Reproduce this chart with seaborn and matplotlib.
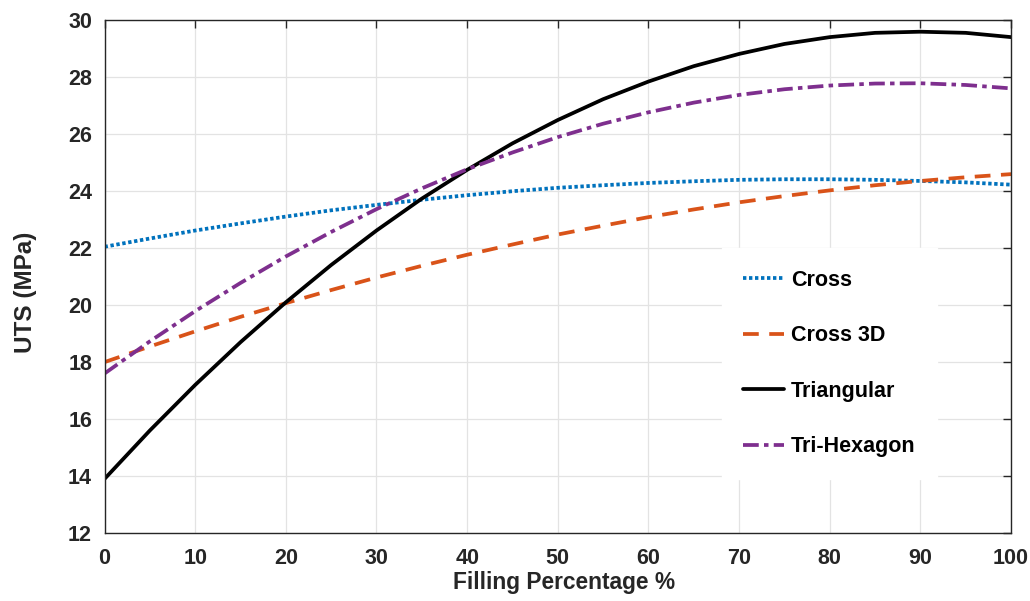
import numpy as np
import pandas as pd
import matplotlib
matplotlib.use("Agg")
import matplotlib.pyplot as plt
import seaborn as sns

# Filling percentage (%) and ultimate tensile strength (MPa) per infill pattern
filling = [0, 5, 10, 15, 20, 25, 30, 35, 40, 45, 50,
           55, 60, 65, 70, 75, 80, 85, 90, 95, 100]
cross = [22.05, 22.34, 22.62, 22.87, 23.11, 23.33, 23.52, 23.70, 23.86, 24.00, 24.12,
         24.21, 24.29, 24.35, 24.40, 24.42, 24.42, 24.40, 24.36, 24.31, 24.23]
cross_3d = [18.00, 18.55, 19.08, 19.59, 20.07, 20.53, 20.97, 21.38, 21.77, 22.13, 22.48,
            22.79, 23.09, 23.36, 23.61, 23.83, 24.03, 24.21, 24.36, 24.49, 24.60]
triangular = [13.90, 15.60, 17.20, 18.70, 20.10, 21.41, 22.62, 23.74, 24.75, 25.68, 26.50,
              27.23, 27.85, 28.39, 28.82, 29.17, 29.41, 29.56, 29.60, 29.56, 29.41]
tri_hexagon = [17.60, 18.73, 19.79, 20.78, 21.71, 22.57, 23.37, 24.10, 24.77, 25.36, 25.90,
               26.37, 26.77, 27.11, 27.38, 27.58, 27.71, 27.78, 27.79, 27.73, 27.61]

series_names = ["Cross", "Cross 3D", "Triangular", "Tri-Hexagon"]
series_values = [cross, cross_3d, triangular, tri_hexagon]
x_ticks = [0, 10, 20, 30, 40, 50, 60, 70, 80, 90, 100]
y_ticks = [12, 14, 16, 18, 20, 22, 24, 26, 28, 30]

sns.set_theme(style="white")
plt.rcParams["font.family"] = ["Liberation Sans", "DejaVu Sans"]
plt.rcParams["font.weight"] = "bold"

colors = {"Cross": "#0072BD", "Cross 3D": "#D95319",
          "Triangular": "#000000", "Tri-Hexagon": "#7E2F8E"}
dashes = {"Cross": (0.9, 0.7), "Cross 3D": (4.2, 2.8),
          "Triangular": "", "Tri-Hexagon": (4.2, 1.4, 1.2, 1.4)}

df = pd.DataFrame({
    "Filling": np.tile(filling, len(series_names)),
    "UTS": np.concatenate(series_values),
    "Pattern": np.repeat(series_names, len(filling)),
})

fig = plt.figure(figsize=(10.30, 6.01), dpi=100)
ax = fig.add_axes([0.1015, 0.1131, 0.8801, 0.8531])

sns.lineplot(data=df, x="Filling", y="UTS", hue="Pattern", style="Pattern",
             hue_order=series_names, style_order=series_names,
             palette=colors, dashes=dashes, linewidth=2.7, ax=ax, legend=True)

ax.set_xlim(0, 100)
ax.set_ylim(12, 30)
ax.set_xticks(x_ticks)
ax.set_yticks(y_ticks)
ax.tick_params(axis="both", direction="in", length=6, width=1, top=True, right=True,
               labelsize=15.5, colors="#262626")
ax.tick_params(axis="x", pad=11)
ax.tick_params(axis="y", pad=9)
for lab in ax.get_xticklabels() + ax.get_yticklabels():
    lab.set_fontweight("bold")
ax.grid(True, color="#e3e3e3", linewidth=0.9)
for sp in ax.spines.values():
    sp.set_color("#262626")
    sp.set_linewidth(1.0)

ax.set_xlabel("Filling Percentage %", fontsize=16.4, fontweight="bold",
              color="#262626")
ax.xaxis.set_label_coords(0.507, -0.075)
ax.xaxis.label.set_va("top")
ax.set_ylabel("UTS (MPa)", fontsize=17.5, fontweight="bold", color="#262626")
ax.yaxis.set_label_coords(-0.074, 0.47)

leg = ax.legend(loc="upper left", bbox_to_anchor=(0.681, 0.555),
                frameon=True, fancybox=False, framealpha=1.0,
                edgecolor="white", facecolor="white",
                prop={"size": 15.5, "weight": "bold"},
                handlelength=1.9, handletextpad=0.3, labelspacing=1.6,
                borderpad=1.0, borderaxespad=0.0)
for line in leg.get_lines():
    line.set_linewidth(2.7)
for txt in leg.get_texts():
    txt.set_color("#000000")

fig.savefig("out.png", dpi=100)
